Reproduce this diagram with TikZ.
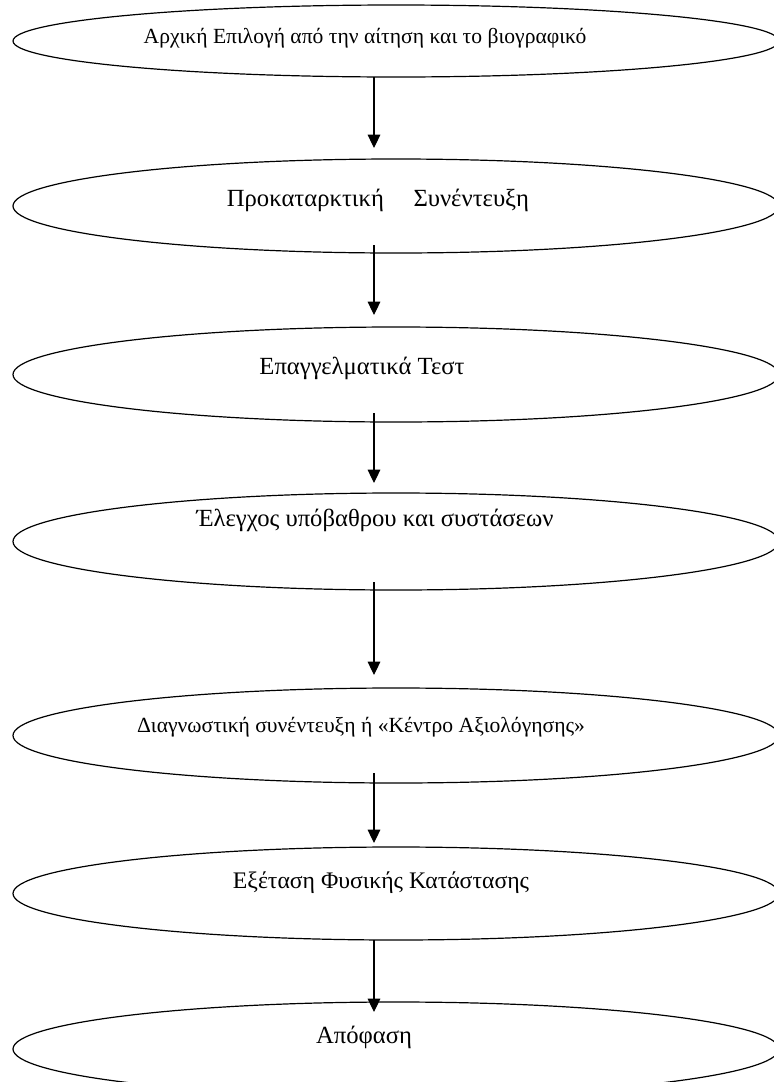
\documentclass[tikz,border=0pt]{standalone}
\usepackage{fontspec}
\setmainfont{Liberation Serif}
\usetikzlibrary{shapes.geometric,arrows.meta}
\begin{document}
\begin{tikzpicture}[x=0.75pt,y=-0.75pt,
  stage/.style={ellipse, draw, line width=0.9pt, minimum width=574.5pt, inner sep=0pt, outer sep=0pt},
  lbl/.style={inner sep=0pt, font=\fontsize{18.5}{22}\selectfont},
  smalllbl/.style={inner sep=0pt, font=\fontsize{16.2}{19}\selectfont},
  flow/.style={-{Triangle[width=9.5pt,length=10pt]}, line width=0.8pt}]
\useasboundingbox (0,0) rectangle (774,1082);
\clip (0,0) rectangle (774,1082);
\node[stage, minimum height=54pt]    (e1) at (396,41) {};
\node[stage, minimum height=70.5pt]  (e2) at (396,206) {};
\node[stage, minimum height=71.25pt] (e3) at (396,374.5) {};
\node[stage, minimum height=72.75pt] (e4) at (396,541.5) {};
\node[stage, minimum height=71.25pt] (e5) at (396,735.5) {};
\node[stage, minimum height=69.75pt] (e6) at (396,893.5) {};
\node[stage, minimum height=70.5pt]  (e7) at (396,1049) {};
\node[smalllbl] (t1) at (365,38) {Αρχική Επιλογή από την αίτηση και το βιογραφικό};
\node[lbl] (t2) at (378,200) {Προκαταρκτική\hspace{1.2em}Συνέντευξη};
\node[lbl] (t3) at (362,368) {Επαγγελματικά Τεστ};
\node[lbl] (t4) at (375,520) {Έλεγχος υπόβαθρου και συστάσεων};
\node[smalllbl] (t5) at (361,727) {Διαγνωστική συνέντευξη ή «Κέντρο Αξιολόγησης»};
\node[lbl, font=\fontsize{17.8}{22}\selectfont] (t6) at (381,883) {Εξέταση Φυσικής Κατάστασης};
\node[lbl] (t7) at (364,1037) {Απόφαση};
\coordinate (a1s) at (374,77);  \coordinate (a1e) at (374,148);
\coordinate (a2s) at (374,245); \coordinate (a2e) at (374,315);
\coordinate (a3s) at (374,413); \coordinate (a3e) at (374,483);
\coordinate (a4s) at (374,582); \coordinate (a4e) at (374,675);
\coordinate (a5s) at (374,773); \coordinate (a5e) at (374,843);
\coordinate (a6s) at (374,940); \coordinate (a6e) at (374,1012);
\draw[flow] (a1s) -- (a1e);
\draw[flow] (a2s) -- (a2e);
\draw[flow] (a3s) -- (a3e);
\draw[flow] (a4s) -- (a4e);
\draw[flow] (a5s) -- (a5e);
\draw[flow] (a6s) -- (a6e);
\end{tikzpicture}
\end{document}
